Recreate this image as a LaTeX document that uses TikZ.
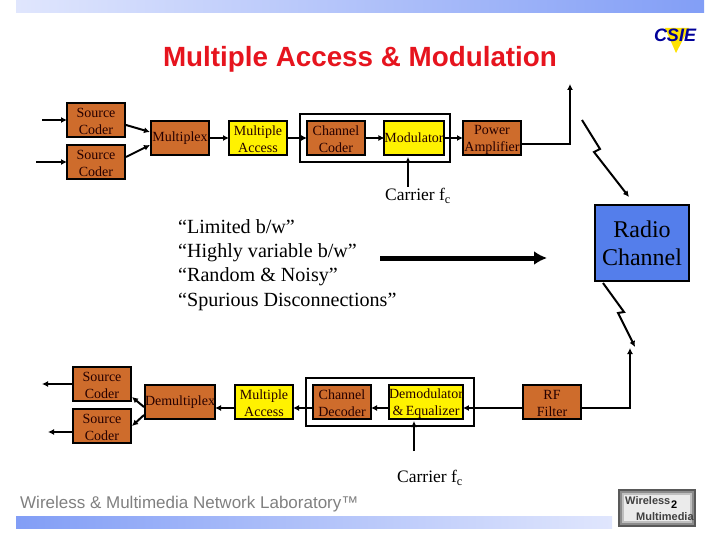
\documentclass[tikz,border=0pt]{standalone}
\usepackage{fontspec}
\setmainfont{Liberation Serif}
\newfontfamily\arialf{Liberation Sans}
\usetikzlibrary{arrows.meta}
\definecolor{boxorange}{RGB}{206,108,44}
\definecolor{boxblue}{RGB}{84,126,235}
\definecolor{bandblue}{RGB}{130,158,246}
\definecolor{bandpale}{RGB}{224,230,253}
\definecolor{titlered}{RGB}{230,20,30}
\tikzset{
  x=1pt,y=-1pt,
  blockbox/.style={draw=black,line width=2pt,inner sep=0pt,outer sep=0pt,align=center,font=\fontsize{14}{17}\selectfont,text=black!85!red},
  orangeone/.style={blockbox,fill=boxorange,minimum width=58pt,minimum height=34pt},
  yellowone/.style={blockbox,fill=yellow,minimum width=58pt,minimum height=34pt},
  orangebox/.style={orangeone,execute at begin node={\rule{0pt}{30pt}}},
  yellowbox/.style={yellowone,execute at begin node={\rule{0pt}{30pt}}},
  groupbox/.style={draw=black,line width=2pt,inner sep=0pt,outer sep=0pt},
  conn/.style={draw=black,line width=2pt,-{Latex[length=6pt,width=6pt]}},
  plainlabel/.style={inner sep=0pt,align=center,font=\fontsize{17.5}{21}\selectfont},
}
\begin{document}
\begin{tikzpicture}
\useasboundingbox (0,0) rectangle (720,540);
% bands
\shade[left color=bandpale,right color=bandblue] (16,0) rectangle (704,13);
\shade[left color=bandblue,right color=bandpale] (16,516) rectangle (612,528);
% title
\node[inner sep=0pt,anchor=base,text=titlered,font=\arialf\bfseries\fontsize{27.8}{30}\selectfont] (title) at (360,67) {Multiple Access \& Modulation};
% group frames
\node[groupbox,minimum width=150pt,minimum height=48pt] (txgroup) at (375,138) {};
\node[groupbox,minimum width=168pt,minimum height=48pt] (rxgroup) at (390,402) {};
% transmit chain
\node[orangebox] (sca) at (96,120) {Source\\Coder};
\node[orangebox] (scb) at (96,162) {Source\\Coder};
\node[orangeone] (mux) at (180,138) {Multiplex};
\node[yellowbox] (mat) at (258,138) {Multiple\\Access};
\node[orangebox] (cc) at (336,138) {Channel\\Coder};
\node[yellowone] (mod) at (414,138) {Modulator};
\node[orangebox] (pa) at (492,138) {Power\\Amplifier};
\node[plainlabel] (cartx) at (418,196) {Carrier f\textsubscript{c}};
% radio channel
\node[blockbox,fill=boxblue,minimum width=94pt,minimum height=76pt,font=\fontsize{24}{28}\selectfont,text=black] (radio) at (642,243) {Radio\\Channel};
% quotes
\node[inner sep=0pt,align=left,anchor=north west,font=\fontsize{20.1}{24.3}\selectfont] (quotes) at (178,219) {“Limited b/w”\\“Highly variable b/w”\\“Random \& Noisy”\\“Spurious Disconnections”};
% receive chain
\node[orangebox] (scc) at (102,384) {Source\\Coder};
\node[orangebox] (scd) at (102,426) {Source\\Coder};
\node[orangeone,minimum width=70pt] (demux) at (180,402) {Demultiplex};
\node[yellowbox] (mar) at (264,402) {Multiple\\Access};
\node[orangebox] (cd) at (342,402) {Channel\\Decoder};
\node[yellowbox,minimum width=70pt] (dem) at (426,402) {Demodulator\\\&\,Equalizer};
\node[orangebox] (rf) at (552,402) {RF\\Filter};
\node[plainlabel] (carrx) at (430,478) {Carrier f\textsubscript{c}};
% free ends
\coordinate (ina) at (42,120);
\coordinate (inb) at (36,162);
\coordinate (muxa) at (150,132);
\coordinate (muxb) at (150,145);
\coordinate (txant) at (570,84);
\coordinate (carttail) at (408,187);
\coordinate (modin) at (408,157);
\coordinate (rxant) at (630,348);
\coordinate (outa) at (42,384);
\coordinate (outb) at (48,432);
\coordinate (dma) at (144,407);
\coordinate (dmb) at (144,415);
\coordinate (scin1) at (132,397);
\coordinate (scin2) at (132,426);
\coordinate (carrtail) at (414,451);
\coordinate (demin) at (414,421);
\coordinate (bigstart) at (380,258);
\coordinate (bigend) at (547,258);
\coordinate (la) at (582,120);
\coordinate (lb) at (600,149);
\coordinate (lc) at (594,152);
\coordinate (ld) at (629,197);
\coordinate (le) at (603,283);
\coordinate (lf) at (624,312);
\coordinate (lg) at (618,313);
\coordinate (lh) at (635,347);
% transmit connectors
\draw[conn] (ina) -- (sca.west);
\draw[conn] (inb) -- (scb.west);
\draw[conn] (126,125) -- (muxa);
\draw[conn] (126,157) -- (muxb);
\draw[conn] (mux.east) -- (mat.west);
\draw[conn] (mat.east) -- (cc.west);
\draw[conn] (cc.east) -- (mod.west);
\draw[conn] (mod.east) -- (pa.west);
\draw[conn] (carttail) -- (modin);
\draw[conn] (pa.east |- 0,144) -| (txant);
% big arrow
\draw[draw=black,line width=5pt,-{Latex[length=13pt,width=14pt]}] (bigstart) -- (bigend);
% lightning
\draw[conn,line join=miter] (la) -- (lb) -- (lc) -- (ld);
\draw[conn,line join=miter] (le) -- (lf) -- (lg) -- (lh);
% receive connectors
\draw[conn] (rf.east |- 0,408) -| (rxant);
\draw[conn] (rf.west |- 0,408) -- (dem.east |- 0,408);
\draw[conn] (dem.west |- 0,408) -- (cd.east |- 0,408);
\draw[conn] (cd.west |- 0,408) -- (mar.east |- 0,408);
\draw[conn] (mar.west |- 0,408) -- (demux.east |- 0,408);
\draw[conn] (dma) -- (scin1);
\draw[conn] (dmb) -- (scin2);
\draw[conn] (scc.west) -- (outa);
\draw[conn] (scd.west |- outb) -- (outb);
\draw[conn] (carrtail) -- (demin);
% footer
\node[inner sep=0pt,anchor=west,text=black!50,font=\arialf\fontsize{17}{20}\selectfont] (footer) at (20,504) {Wireless \& Multimedia Network Laboratory™};
% CSIE logo
\fill[yellow!85!orange] (665,28) -- (689,28) -- (676,53) -- cycle;
\node[inner sep=0pt,text=blue!60!black,font=\arialf\bfseries\itshape\fontsize{18}{20}\selectfont] (csie) at (675,35) {CSIE};
% lab logo
\fill[black!65] (618,489) rectangle (696,527);
\fill[black!45] (620,491) rectangle (694,525);
\fill[black!25] (622,493) rectangle (692,523);
\fill[black!8] (624,495) rectangle (690,521);
\node[inner sep=0pt,anchor=west,text=black!75,font=\arialf\bfseries\fontsize{11}{12}\selectfont] (labtop) at (625,501) {Wireless};
\node[inner sep=0pt,anchor=west,text=black,font=\arialf\bfseries\fontsize{11}{12}\selectfont] (labtwo) at (671,505) {2};
\node[inner sep=0pt,anchor=west,text=black!75,font=\arialf\bfseries\fontsize{11}{12}\selectfont] (labbot) at (636,517) {Multimedia};
\end{tikzpicture}
\end{document}
